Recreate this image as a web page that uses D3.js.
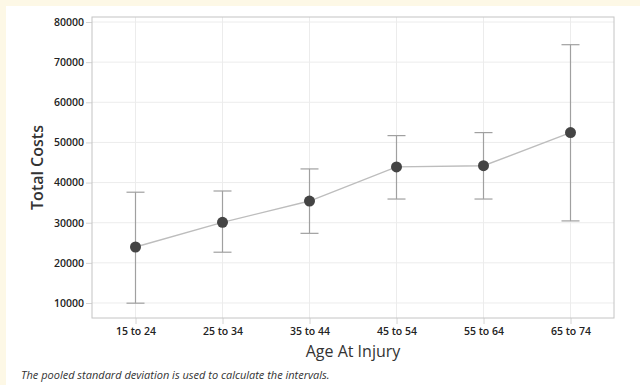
<!DOCTYPE html>
<html>
<head>
<meta charset="utf-8">
<script src="https://cdn.jsdelivr.net/npm/d3@7"></script>
<style>
  body { margin: 0; background: #fdf8e6; }
  svg { display: block; font-family: "Open Sans", sans-serif; }
</style>
</head>
<body>
<svg id="chart" width="640" height="385"></svg>
<script>
// values
var ageGroups = ["15 to 24", "25 to 34", "35 to 44", "45 to 54", "55 to 64", "65 to 74"];
var means     = [23950, 30100, 35400, 43900, 44200, 52450];
var lower     = [9950, 22650, 27350, 35900, 35900, 30450];
var upper     = [37600, 37900, 43400, 51700, 52450, 74350];
var yTicks    = [10000, 20000, 30000, 40000, 50000, 60000, 70000, 80000];

var svg = d3.select("#chart");
var margin = {top: 17, right: 26, bottom: 67, left: 92};
var width  = 640 - margin.left - margin.right;
var height = 385 - margin.top - margin.bottom;

// white panel inside the cream border
svg.append("rect")
    .attr("x", 6).attr("y", 6)
    .attr("width", 640).attr("height", 385)
    .attr("fill", "#fff");

var g = svg.append("g")
    .attr("transform", "translate(" + margin.left + "," + margin.top + ")");

var data = ageGroups.map(function(a, i) {
  return {age: a, mean: means[i], lo: lower[i], hi: upper[i]};
});

var x = d3.scalePoint().domain(ageGroups).range([0, width]).padding(0.5);
var y = d3.scaleLinear().domain([6260, 81250]).range([height, 0]);

// grid
g.selectAll(".hgrid").data(yTicks).enter().append("line")
    .attr("x1", 0).attr("x2", width)
    .attr("y1", function(d) { return y(d); })
    .attr("y2", function(d) { return y(d); })
    .attr("stroke", "#ececec");
g.selectAll(".vgrid").data(ageGroups).enter().append("line")
    .attr("x1", function(d) { return x(d); })
    .attr("x2", function(d) { return x(d); })
    .attr("y1", 0).attr("y2", height)
    .attr("stroke", "#ececec");

// axes
var yAxis = d3.axisLeft(y).tickValues(yTicks).tickSize(6).tickPadding(2).tickFormat(d3.format("d"));
var xAxis = d3.axisBottom(x).tickSize(6).tickPadding(4);

var yG = g.append("g").call(yAxis);
var xG = g.append("g").attr("transform", "translate(0," + height + ")").call(xAxis);
[yG, xG].forEach(function(a) {
  a.select(".domain").remove();
  a.selectAll(".tick line").attr("stroke", "#d4d4d4");
  a.selectAll(".tick text")
      .attr("fill", "#222")
      .style("font-size", "10.5px")
      .style("font-weight", "600")
      .style("font-family", "'Open Sans', sans-serif");
});

// frame
g.append("rect")
    .attr("width", width).attr("height", height)
    .attr("fill", "none")
    .attr("stroke", "#c4c4c4");

// error bars
var bars = g.selectAll(".err").data(data).enter().append("g");
bars.append("line")
    .attr("x1", function(d) { return x(d.age); })
    .attr("x2", function(d) { return x(d.age); })
    .attr("y1", function(d) { return y(d.lo); })
    .attr("y2", function(d) { return y(d.hi); })
    .attr("stroke", "#a0a0a0").attr("stroke-width", 1.2);
["lo", "hi"].forEach(function(k) {
  bars.append("line")
      .attr("x1", function(d) { return x(d.age) - 9; })
      .attr("x2", function(d) { return x(d.age) + 9; })
      .attr("y1", function(d) { return y(d[k]); })
      .attr("y2", function(d) { return y(d[k]); })
      .attr("stroke", "#a0a0a0").attr("stroke-width", 1.2);
});

// mean line
var line = d3.line()
    .x(function(d) { return x(d.age); })
    .y(function(d) { return y(d.mean); });
g.append("path")
    .datum(data)
    .attr("d", line)
    .attr("fill", "none")
    .attr("stroke", "#bdbdbd")
    .attr("stroke-width", 1.4);

g.selectAll(".dot").data(data).enter().append("circle")
    .attr("cx", function(d) { return x(d.age); })
    .attr("cy", function(d) { return y(d.mean); })
    .attr("r", 5.5)
    .attr("fill", "#444");

// titles
svg.append("text")
    .attr("transform", "translate(43," + (margin.top + height / 2) + ") rotate(-90)")
    .attr("text-anchor", "middle")
    .attr("fill", "#333")
    .style("font-size", "16px")
    .style("font-weight", "600")
    .text("Total Costs");

svg.append("text")
    .attr("x", margin.left + width / 2)
    .attr("y", 357)
    .attr("text-anchor", "middle")
    .attr("fill", "#333")
    .style("font-size", "16px")
    .text("Age At Injury");

svg.append("text")
    .attr("x", 21)
    .attr("y", 379)
    .attr("fill", "#333")
    .style("font-size", "11px")
    .style("font-style", "italic")
    .text("The pooled standard deviation is used to calculate the intervals.");
</script>
</body>
</html>
